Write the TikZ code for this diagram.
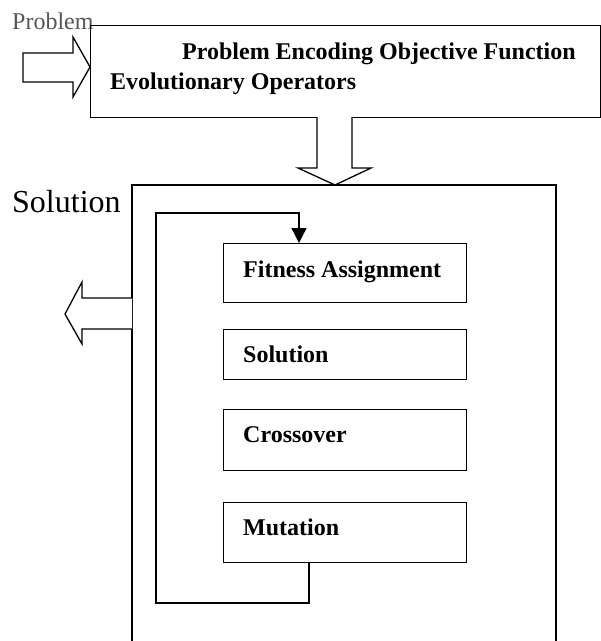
\documentclass[tikz,border=0pt]{standalone}
\usepackage{fontspec}
\setmainfont{Liberation Serif}
\usetikzlibrary{arrows.meta}
\definecolor{probgray}{RGB}{85,85,85}
\tikzset{
  boxline/.style={draw=black, line width=1.3pt},
  stagebox/.style={boxline, rectangle, inner sep=0pt, minimum width=243.3pt, anchor=north west},
  lbl/.style={inner sep=0pt, anchor=base west, font=\fontsize{24pt}{28pt}\selectfont\bfseries},
  blockarrow/.style={draw=black, line width=1.3pt, fill=white, line join=miter},
  loopline/.style={draw=black, line width=1.3pt}
}
\begin{document}
\begin{tikzpicture}[x=1pt,y=-1pt]
\useasboundingbox (0,0) rectangle (601,641);
% top-left gray label
\node[inner sep=0pt, anchor=base west, text=probgray, font=\fontsize{24pt}{28pt}\selectfont] (problbl) at (12,29) {Problem};
% top box
\node[boxline, rectangle, inner sep=0pt, minimum width=510pt, minimum height=92pt, anchor=north west] (topbox) at (90,25) {};
\node[lbl] (topl1) at (182,59) {Problem Encoding Objective Function};
\node[lbl] (topl2) at (110,89) {Evolutionary Operators};
% input arrow
\draw[blockarrow] (23,53) -- (73,53) -- (73,37) -- (topbox.west |- 0,67) -- (73,97) -- (73,82) -- (23,82) -- cycle;
% down arrow
\draw[blockarrow] (317,117) -- (317,168) -- (298,168) -- (335,185) -- (371,168) -- (352,168) -- (352,117);
% solution big box (open at the bottom)
\coordinate (solbl) at (132,641);
\coordinate (solbr) at (556,641);
\draw[boxline] (solbl) -- (132,185) coordinate (soltl) -- (556,185) coordinate (soltr) -- (solbr);
\node[inner sep=0pt, anchor=base west, font=\fontsize{32pt}{36pt}\selectfont] (sollbl) at (12,212) {Solution};
% output arrow
\draw[blockarrow] (132,298) -- (82,298) -- (82,282) -- (65,314) -- (82,344) -- (82,329) -- (132,329);
% stage boxes
\node[stagebox, minimum height=59pt] (fitbox) at (222.7,243) {};
\node[lbl] (fitlbl) at (243,277) {Fitness Assignment};
\node[stagebox, minimum height=50pt] (solbox) at (222.7,329) {};
\node[lbl] (sollbl2) at (243,362) {Solution};
\node[stagebox, minimum height=61pt] (crossbox) at (222.7,409) {};
\node[lbl] (crosslbl) at (243,442) {Crossover};
\node[stagebox, minimum height=60pt] (mutbox) at (222.7,502) {};
\node[lbl] (mutlbl) at (243,535) {Mutation};
% feedback loop
\coordinate (loopA) at (309,603);
\coordinate (loopB) at (156,603);
\coordinate (loopC) at (156,213);
\coordinate (loopD) at (299,213);
\draw[loopline, -{Triangle[length=15pt,width=15pt]}] (mutbox.south -| loopA) -- (loopA) -- (loopB) -- (loopC) -- (loopD) -- (fitbox.north -| loopD);
\end{tikzpicture}
\end{document}
